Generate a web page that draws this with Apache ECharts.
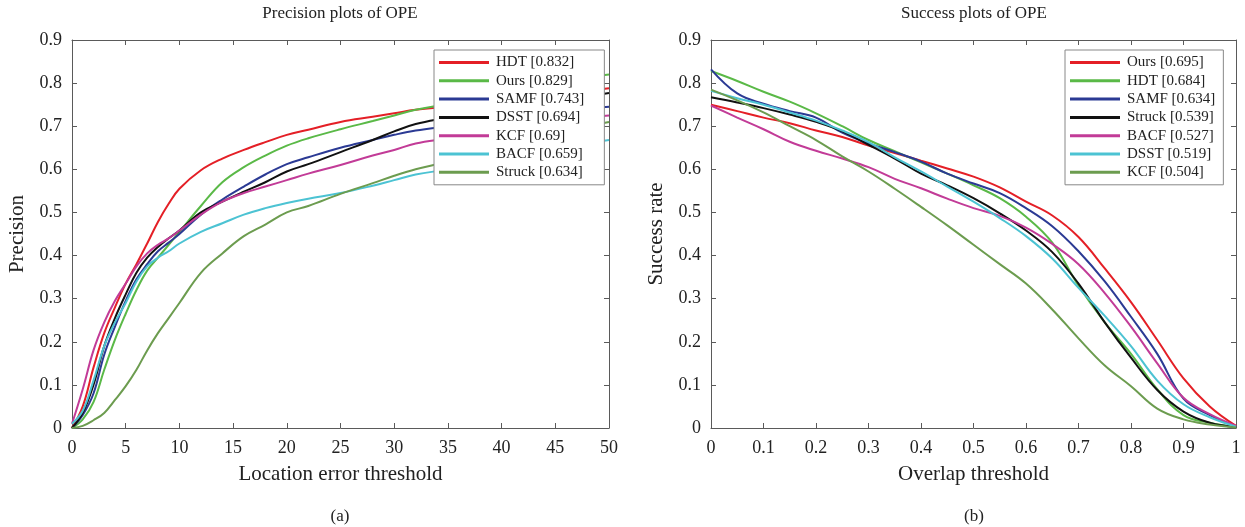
<!DOCTYPE html>
<html>
<head>
<meta charset="utf-8">
<script src="https://cdn.jsdelivr.net/npm/echarts@6/dist/echarts.min.js"></script>
<style>
html,body{margin:0;padding:0;background:#fff;}
#chart{width:1245px;height:527px;}
</style>
</head>
<body>
<div id="chart"></div>
<script>
// ---- Precision plot data ----
const precX = [0,1,2,3,4,5,6,7,8,9,10,12,14,16,18,20,22,25,28,30,32,35,38,40,42,45,48,50];
const precHDT    = [0,0.05,0.14,0.22,0.28,0.335,0.38,0.428,0.478,0.52,0.555,0.598,0.625,0.645,0.663,0.68,0.692,0.71,0.722,0.73,0.738,0.745,0.752,0.758,0.763,0.772,0.782,0.788];
const precOurs   = [0,0.02,0.06,0.135,0.205,0.265,0.32,0.365,0.395,0.425,0.455,0.515,0.57,0.605,0.632,0.655,0.672,0.693,0.712,0.725,0.738,0.752,0.768,0.777,0.786,0.8,0.813,0.82];
const precSAMF   = [0,0.03,0.08,0.17,0.235,0.295,0.345,0.38,0.41,0.43,0.45,0.495,0.53,0.56,0.588,0.612,0.628,0.65,0.668,0.68,0.69,0.7,0.71,0.715,0.722,0.73,0.74,0.745];
const precDSST   = [0,0.035,0.1,0.19,0.255,0.31,0.36,0.395,0.42,0.44,0.458,0.5,0.525,0.548,0.57,0.595,0.612,0.64,0.668,0.688,0.705,0.72,0.735,0.745,0.752,0.762,0.77,0.777];
const precKCF    = [0.01,0.09,0.18,0.245,0.295,0.335,0.375,0.405,0.425,0.44,0.458,0.495,0.525,0.545,0.56,0.575,0.59,0.61,0.632,0.645,0.66,0.672,0.685,0.692,0.7,0.71,0.72,0.725];
const precBACF   = [0.01,0.04,0.11,0.19,0.245,0.29,0.34,0.375,0.395,0.41,0.428,0.455,0.475,0.495,0.51,0.522,0.532,0.545,0.562,0.575,0.588,0.6,0.615,0.625,0.635,0.648,0.66,0.668];
const precStruck = [0,0.005,0.018,0.035,0.065,0.097,0.135,0.18,0.22,0.255,0.29,0.36,0.405,0.445,0.472,0.5,0.515,0.543,0.568,0.585,0.6,0.618,0.64,0.655,0.67,0.685,0.7,0.71];
const precNames  = ['HDT [0.832]','Ours [0.829]','SAMF [0.743]','DSST [0.694]','KCF [0.69]','BACF [0.659]','Struck [0.634]'];

// ---- Success plot data ----
const succX = [0,0.05,0.1,0.15,0.2,0.25,0.3,0.35,0.4,0.45,0.5,0.55,0.6,0.65,0.7,0.75,0.8,0.85,0.9,0.95,1.0];
const succOurs   = [0.75,0.735,0.72,0.707,0.69,0.675,0.655,0.638,0.62,0.602,0.583,0.558,0.525,0.493,0.443,0.37,0.292,0.204,0.115,0.05,0.005];
const succHDT    = [0.828,0.805,0.78,0.757,0.73,0.70,0.668,0.642,0.616,0.59,0.563,0.533,0.49,0.43,0.33,0.245,0.172,0.09,0.03,0.012,0.002];
const succSAMF   = [0.832,0.776,0.752,0.735,0.72,0.685,0.66,0.64,0.618,0.59,0.567,0.545,0.51,0.468,0.41,0.34,0.258,0.172,0.068,0.03,0.003];
const succStruck = [0.767,0.755,0.742,0.727,0.71,0.688,0.657,0.625,0.59,0.563,0.533,0.498,0.458,0.408,0.335,0.245,0.163,0.088,0.038,0.012,0.002];
const succBACF   = [0.748,0.72,0.693,0.664,0.643,0.625,0.605,0.578,0.556,0.532,0.51,0.492,0.465,0.427,0.38,0.313,0.235,0.15,0.07,0.032,0.005];
const succDSST   = [0.782,0.765,0.75,0.732,0.713,0.69,0.663,0.628,0.595,0.56,0.525,0.487,0.445,0.393,0.325,0.26,0.19,0.11,0.055,0.025,0.003];
const succKCF    = [0.785,0.76,0.732,0.70,0.668,0.63,0.595,0.555,0.513,0.47,0.425,0.38,0.335,0.275,0.208,0.145,0.097,0.045,0.02,0.008,0.001];
const succNames  = ['Ours [0.695]','HDT [0.684]','SAMF [0.634]','Struck [0.539]','BACF [0.527]','DSST [0.519]','KCF [0.504]'];

const colors = ['#e41f26','#5ab947','#2b3a94','#111111','#c23b97','#4cc3d3','#6c9c4f'];

const FONT = '"Liberation Serif", "DejaVu Serif", serif';
const TXT = '#222';
const AX = '#5a5a5a';

function pairs(xs, ys){ return xs.map((x,i)=>[x, ys[i]]); }

const precSeriesData = [precHDT,precOurs,precSAMF,precDSST,precKCF,precBACF,precStruck];
const succSeriesData = [succOurs,succHDT,succSAMF,succStruck,succBACF,succDSST,succKCF];

const series = [];
precSeriesData.forEach((d,i)=>{
  series.push({type:'line', name:precNames[i], xAxisIndex:0, yAxisIndex:0, data:pairs(precX,d),
    showSymbol:false, smooth:0.4, color:colors[i], lineStyle:{width:2, color:colors[i]}, z:2, zlevel:0});
});
succSeriesData.forEach((d,i)=>{
  series.push({type:'line', name:succNames[i], xAxisIndex:2, yAxisIndex:2, data:pairs(succX,d),
    showSymbol:false, smooth:0.4, color:colors[i], lineStyle:{width:2, color:colors[i]}, z:2, zlevel:0});
});

function xAx(grid, max, interval, name, isTop){
  return {
    gridIndex:grid, type:'value', min:0, max:max, interval:interval, position:isTop?'top':'bottom',
    axisLine:{show:true, onZero:false, lineStyle:{color:AX, width:1}},
    axisTick:{show:true, inside:true, length:5, lineStyle:{color:AX}},
    axisLabel:{show:!isTop, fontFamily:FONT, fontSize:18, color:TXT, margin:11},
    splitLine:{show:false},
    name:isTop?'':name, nameLocation:'middle', nameGap:36,
    nameTextStyle:{fontFamily:FONT, fontSize:21, color:TXT}
  };
}
function yAx(grid, name, isRight){
  return {
    gridIndex:grid, type:'value', min:0, max:0.9, interval:0.1, position:isRight?'right':'left',
    axisLine:{show:true, onZero:false, lineStyle:{color:AX, width:1}},
    axisTick:{show:true, inside:true, length:5, lineStyle:{color:AX}},
    axisLabel:{show:!isRight, fontFamily:FONT, fontSize:18, color:TXT, margin:10},
    splitLine:{show:false},
    name:isRight?'':name, nameLocation:'middle', nameGap:44,
    nameTextStyle:{fontFamily:FONT, fontSize:21, color:TXT}
  };
}

function legendCfg(names, left, width, padRight){
  return {
    data:names, orient:'vertical', left:left, top:50, width:width, z:20, zlevel:0,
    icon:'rect', itemWidth:50, itemHeight:3, itemGap:3.3,
    padding:[5,padRight,5,5], borderColor:'#888', borderWidth:1, backgroundColor:'#fff',
    selectedMode:false,
    textStyle:{fontFamily:FONT, fontSize:15, color:TXT, lineHeight:15, padding:[0,0,0,2]}
  };
}

const chart = echarts.init(document.getElementById('chart'), null, {renderer:'canvas'});
chart.setOption({
  animation:false,
  backgroundColor:'#fff',
  title:[
    {text:'Precision plots of OPE', left:340, top:5, textAlign:'center', padding:0,
      textStyle:{fontFamily:FONT, fontSize:17, fontWeight:'normal', color:TXT}},
    {text:'Success plots of OPE', left:974, top:5, textAlign:'center', padding:0,
      textStyle:{fontFamily:FONT, fontSize:17, fontWeight:'normal', color:TXT}},
    {text:'(a)', left:340, top:508, textAlign:'center', padding:0,
      textStyle:{fontFamily:FONT, fontSize:17, fontWeight:'normal', color:TXT}},
    {text:'(b)', left:974, top:508, textAlign:'center', padding:0,
      textStyle:{fontFamily:FONT, fontSize:17, fontWeight:'normal', color:TXT}}
  ],
  legend:[legendCfg(precNames, 434, 172, 20), legendCfg(succNames, 1065, 160, 8)],
  grid:[
    {left:72, top:40, width:537, height:388, containLabel:false},
    {left:711, top:40, width:525, height:388, containLabel:false}
  ],
  xAxis:[
    xAx(0, 50, 5, 'Location error threshold', false),
    xAx(0, 50, 5, '', true),
    xAx(1, 1, 0.1, 'Overlap threshold', false),
    xAx(1, 1, 0.1, '', true)
  ],
  yAxis:[
    yAx(0, 'Precision', false),
    yAx(0, '', true),
    yAx(1, 'Success rate', false),
    yAx(1, '', true)
  ],
  series:series
});
</script>
</body>
</html>
